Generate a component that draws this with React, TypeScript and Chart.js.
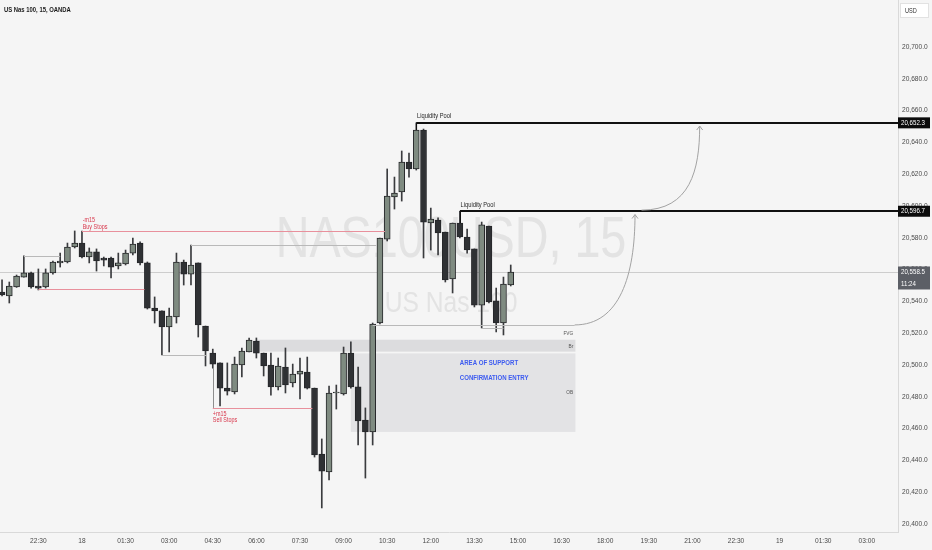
import { useEffect, useRef } from 'react';
import { Chart, registerables } from 'chart.js';

Chart.register(...registerables);

// 15-minute bars; bar index 0 = 18th 00:00
const FIRST_BAR = -11;

const OPEN = [
  20545.9, 20543.4, 20549.1, 20555.3, 20557.9, 20549.7, 20549.1, 20557.9, 20564.2, 20564.8, 20574.2,
  20576.7, 20567.9, 20571.1, 20567.3, 20567.3, 20562.3, 20563.5, 20570.4, 20576.7, 20564.2,
  20535.8, 20534.0, 20523.9, 20530.2, 20564.8, 20557.2, 20564.2, 20524.5, 20507.5, 20501.3,
  20485.5, 20483.0, 20500.0, 20508.2, 20515.1, 20507.5, 20500.0, 20486.2, 20498.7, 20488.7,
  20494.3, 20495.6, 20485.5, 20444.0, 20432.7, 20482.4, 20481.8, 20507.5, 20486.2, 20465.4,
  20457.9, 20526.4, 20579.2, 20605.7, 20608.8, 20627.7, 20623.3, 20647.8, 20589.3, 20591.2,
  20583.6, 20554.1, 20589.3, 20580.5, 20573.0, 20537.7, 20587.4, 20540.3, 20526.4, 20550.3,
];
const HIGH = [
  20553.5, 20552.2, 20556.6, 20568.6, 20558.5, 20560.4, 20560.4, 20565.4, 20570.4, 20576.7, 20584.3,
  20584.3, 20573.6, 20573.0, 20567.9, 20567.9, 20570.4, 20572.3, 20579.9, 20577.4, 20564.8,
  20542.8, 20534.0, 20535.8, 20570.4, 20566.0, 20575.5, 20564.2, 20524.5, 20510.0, 20501.3,
  20501.3, 20505.0, 20510.7, 20517.0, 20517.0, 20507.5, 20507.5, 20504.4, 20510.7, 20500.6,
  20504.4, 20505.0, 20485.5, 20453.5, 20486.8, 20487.4, 20511.3, 20514.5, 20498.7, 20473.0,
  20526.4, 20579.9, 20623.3, 20618.2, 20634.6, 20633.3, 20652.3, 20648.4, 20598.7, 20592.5,
  20583.6, 20589.3, 20596.7, 20585.5, 20573.0, 20589.9, 20587.4, 20548.4, 20555.3, 20562.9,
];
const LOW = [
  20543.4, 20539.0, 20548.8, 20555.3, 20548.4, 20547.2, 20548.4, 20557.2, 20561.6, 20564.2, 20573.6,
  20567.3, 20564.2, 20559.1, 20562.3, 20554.7, 20560.4, 20562.9, 20569.2, 20562.9, 20535.2,
  20526.4, 20506.3, 20508.2, 20526.4, 20550.3, 20550.3, 20517.6, 20499.4, 20498.0, 20474.2,
  20481.1, 20481.8, 20492.5, 20508.2, 20504.4, 20493.1, 20481.1, 20484.3, 20482.4, 20486.2,
  20478.6, 20484.9, 20442.1, 20410.1, 20427.7, 20472.3, 20481.1, 20485.5, 20449.7, 20428.9,
  20449.7, 20525.8, 20578.0, 20598.1, 20603.1, 20618.2, 20622.6, 20567.3, 20572.3, 20569.2,
  20552.2, 20545.3, 20579.9, 20570.4, 20536.5, 20523.3, 20539.0, 20520.8, 20518.9, 20549.7,
];
const CLOSE = [
  20544.0, 20549.7, 20556.0, 20557.9, 20549.1, 20548.4, 20557.9, 20564.8, 20565.4, 20574.2, 20576.7,
  20567.9, 20571.1, 20565.4, 20566.0, 20561.6, 20564.2, 20570.4, 20576.1, 20564.2, 20535.8,
  20534.0, 20523.9, 20530.8, 20564.8, 20557.2, 20562.9, 20525.2, 20508.8, 20500.6, 20485.5,
  20483.6, 20500.6, 20508.8, 20515.7, 20507.5, 20499.4, 20486.2, 20499.4, 20487.4, 20494.3,
  20496.2, 20485.5, 20443.4, 20433.3, 20482.4, 20483.0, 20507.5, 20486.2, 20464.8, 20457.9,
  20525.8, 20579.9, 20606.3, 20608.2, 20627.7, 20623.3, 20647.8, 20589.9, 20591.8, 20583.0,
  20553.5, 20589.3, 20580.5, 20572.3, 20537.7, 20588.1, 20539.6, 20526.4, 20550.9, 20558.5,
];

const X_TICK_BARS = [-6, 0, 6, 12, 18, 24, 30, 36, 42, 48, 54, 60, 66, 72, 78, 84, 90, 96, 102, 108];
const X_TICK_LABELS = ['22:30', '18', '01:30', '03:00', '04:30', '06:00', '07:30', '09:00', '10:30', '12:00',
  '13:30', '15:00', '16:30', '18:00', '19:30', '21:00', '22:30', '19', '01:30', '03:00'];
const Y_TICKS = [20400, 20420, 20440, 20460, 20480, 20500, 20520, 20540, 20560, 20580, 20600, 20620, 20640, 20660, 20680, 20700];

const X_MIN = -11.28;
const X_MAX = 112.29;
const Y_MIN = 20394.97;
const Y_MAX = 20729.56;

const LAST_PRICE = 20558.5;
const BAR_TIMER = '11:24';
const POOL_HIGH = 20652.3; // liquidity pool 1
const POOL_LOW = 20596.7; // liquidity pool 2

const SANS = "'Liberation Sans', Arial, sans-serif";
const SX = 0.82; // horizontal squeeze for the narrow look of the original
const BG = '#f5f5f5';
const BULL = '#7f8b81';
const BEAR = '#2f3134';
const EDGE = '#26272a';
const WICK = '#3a3b3e';
const PINK = '#e8909c';
const RED = '#d8374c';
const GREY_LINE = '#b9b9b9';

const fmtPrice = (v: number) =>
  v.toLocaleString('en-US', { minimumFractionDigits: 1, maximumFractionDigits: 1 });

function text(ctx: CanvasRenderingContext2D, s: string, x: number, y: number, font: string, color: string,
  align: CanvasTextAlign = 'left', baseline: CanvasTextBaseline = 'middle') {
  ctx.save();
  ctx.font = font;
  ctx.fillStyle = color;
  ctx.textAlign = align;
  ctx.textBaseline = baseline;
  ctx.translate(x, y);
  ctx.scale(SX, 1);
  ctx.fillText(s, 0, 0);
  ctx.restore();
}

const overlayPlugin = {
  id: 'overlay',
  beforeDraw(chart: any) {
    const { ctx, width, height } = chart;
    ctx.save();
    ctx.fillStyle = BG;
    ctx.fillRect(0, 0, width, height);
    ctx.restore();
  },
  beforeDatasetsDraw(chart: any) {
    const { ctx, chartArea: a, scales } = chart;
    const X = (v: number) => scales.x.getPixelForValue(v);
    const Y = (v: number) => scales.y.getPixelForValue(v);
    ctx.save();
    ctx.beginPath();
    ctx.rect(a.left, a.top, a.right - a.left, a.bottom - a.top);
    ctx.clip();
    // watermark
    const cx = (a.left + a.right) / 2 + 2;
    text(ctx, 'NAS100USD, 15', cx, 257, `57px ${SANS}`, '#e3e3e3', 'center', 'alphabetic');
    text(ctx, 'US Nas 100', cx, 312, `30px ${SANS}`, '#e3e3e3', 'center', 'alphabetic');
    // last price line
    ctx.strokeStyle = '#cdcdcd';
    ctx.lineWidth = 1;
    ctx.beginPath();
    ctx.moveTo(a.left, Math.round(Y(LAST_PRICE)) + 0.5);
    ctx.lineTo(a.right, Math.round(Y(LAST_PRICE)) + 0.5);
    ctx.stroke();
    // zones
    const rect = (x1: number, x2: number, p1: number, p2: number, fill: string) => {
      ctx.fillStyle = fill;
      ctx.fillRect(X(x1), Y(p1), X(x2) - X(x1), Y(p2) - Y(p1));
    };
    rect(23.9, 67.9, 20515.9, 20508.4, '#dcdcde'); // Br band
    rect(37.0, 67.9, 20507.3, 20457.9, '#e3e3e5'); // OB
    ctx.restore();
  },
  afterDatasetsDraw(chart: any) {
    const { ctx, chartArea: a, scales } = chart;
    const X = (v: number) => scales.x.getPixelForValue(v);
    const Y = (v: number) => scales.y.getPixelForValue(v);
    ctx.save();
    ctx.beginPath();
    ctx.rect(a.left, a.top, a.right - a.left, a.bottom - a.top);
    ctx.clip();
    const hline = (x1: number, x2: number, p: number, color: string, w = 1) => {
      ctx.strokeStyle = color;
      ctx.lineWidth = w;
      const yy = w % 2 ? Math.round(Y(p)) + 0.5 : Math.round(Y(p));
      ctx.beginPath();
      ctx.moveTo(X(x1), yy);
      ctx.lineTo(X(x2), yy);
      ctx.stroke();
    };
    const vline = (x: number, p1: number, p2: number, color: string) => {
      ctx.strokeStyle = color;
      ctx.lineWidth = 1;
      const xx = Math.round(X(x)) + 0.5;
      ctx.beginPath();
      ctx.moveTo(xx, Y(p1));
      ctx.lineTo(xx, Y(p2));
      ctx.stroke();
    };
    // liquidity levels on the left
    hline(-8, -3, 20568.6, GREY_LINE);
    hline(-6, 8.6, 20547.6, PINK);
    hline(0, 41.7, 20584.3, PINK);
    hline(15, 40.5, 20575.5, GREY_LINE);
    hline(11, 17.2, 20506.3, GREY_LINE);
    vline(18, 20498.0, 20473.0, '#8e8e8e');
    hline(18, 31.7, 20473.0, PINK);
    // FVG
    hline(40, 67.8, 20525.2, GREY_LINE);
    hline(55, 58, 20523.3, GREY_LINE);
    // liquidity pools
    vline(46, POOL_HIGH, 20647.8, '#111');
    hline(46, X_MAX, POOL_HIGH, '#111', 2);
    vline(52, POOL_LOW, 20589.3, '#111');
    hline(52, X_MAX, POOL_LOW, '#111', 2);

    const small = `7px ${SANS}`;
    text(ctx, 'Liquidity Pool', X(46.1), Y(POOL_HIGH) - 4.5, small, '#1c1c1c', 'left', 'alphabetic');
    text(ctx, 'Liquidity Pool', X(52.1), Y(POOL_LOW) - 4.5, small, '#1c1c1c', 'left', 'alphabetic');
    text(ctx, '-m15', X(0.1), 222, `6.6px ${SANS}`, RED, 'left', 'alphabetic');
    text(ctx, 'Buy Stops', X(0.1), 228.5, `6.6px ${SANS}`, RED, 'left', 'alphabetic');
    text(ctx, '+m15', X(18), Y(20473.0) + 8, `6.6px ${SANS}`, RED, 'left', 'alphabetic');
    text(ctx, 'Sell Stops', X(18), Y(20473.0) + 14.5, `6.6px ${SANS}`, RED, 'left', 'alphabetic');
    text(ctx, 'FVG', X(67.6), Y(20525.2) + 8, `5.8px ${SANS}`, '#555', 'right', 'middle');
    text(ctx, 'Br', X(67.6), Y(20512.0), `5.8px ${SANS}`, '#555', 'right', 'middle');
    text(ctx, 'OB', X(67.6), Y(20482.8), `5.8px ${SANS}`, '#555', 'right', 'middle');
    const blue = `bold 7.4px ${SANS}`;
    text(ctx, 'AREA OF SUPPORT', X(52.0), Y(20501.0), blue, '#3d5bf0', 'left', 'middle');
    text(ctx, 'CONFIRMATION ENTRY', X(52.0), Y(20492.0), blue, '#3d5bf0', 'left', 'middle');

    // projection arrows
    const curve = (pts: number[][]) => {
      const p = pts.map(([i, v]) => [X(i), Y(v)]);
      ctx.strokeStyle = '#a3a3a3';
      ctx.lineWidth = 1;
      ctx.beginPath();
      ctx.moveTo(p[0][0], p[0][1]);
      ctx.bezierCurveTo(p[1][0], p[1][1], p[2][0], p[2][1], p[3][0], p[3][1]);
      ctx.stroke();
      const [ex, ey] = p[3];
      ctx.beginPath();
      ctx.moveTo(ex - 3, ey + 4);
      ctx.lineTo(ex, ey);
      ctx.lineTo(ex + 3, ey + 4);
      ctx.stroke();
    };
    curve([[67.8, 20525.2], [74.0, 20525.2], [76.1, 20556.6], [76.1, 20594.6]]);
    curve([[77.0, 20597.4], [83.7, 20597.4], [85.0, 20622.6], [85.0, 20650.3]]);
    ctx.restore();

    // axis price tags
    ctx.save();
    const tag = (p: number, fill: string, lines: string[]) => {
      const yy = Y(p);
      const h = 11 + (lines.length - 1) * 12;
      ctx.fillStyle = fill;
      ctx.fillRect(a.right, yy - 5.5, 32, h);
      lines.forEach((s, k) => text(ctx, s, a.right + 3, yy + k * 11.5, `7.5px ${SANS}`, '#fff', 'left', 'middle'));
    };
    tag(POOL_HIGH, '#0c0c0c', [fmtPrice(POOL_HIGH)]);
    tag(POOL_LOW, '#0c0c0c', [fmtPrice(POOL_LOW)]);
    tag(LAST_PRICE, '#5c5f66', [fmtPrice(LAST_PRICE), BAR_TIMER]);
    // currency box
    ctx.fillStyle = '#ffffff';
    ctx.fillRect(a.right + 2, 3, 29, 15);
    ctx.strokeStyle = '#e2e2e2';
    ctx.strokeRect(a.right + 2.5, 3.5, 28, 14);
    text(ctx, 'USD', a.right + 7, 11, `6.8px ${SANS}`, '#333', 'left', 'middle');
    // title
    text(ctx, 'US Nas 100, 15, OANDA', 4, 10.5, `bold 7.2px ${SANS}`, '#1a1a1a', 'left', 'middle');
    ctx.restore();
  },
};

export default function App() {
  const ref = useRef<HTMLCanvasElement | null>(null);
  useEffect(() => {
    document.body.style.margin = '0';
    const canvas = ref.current;
    if (!canvas) return;
    const bars = OPEN.map((_, k) => FIRST_BAR + k);
    const chart = new Chart(canvas, {
      type: 'bar',
      data: {
        datasets: [
          {
            label: 'wick',
            data: bars.map((x, k) => ({ x, y: [LOW[k], HIGH[k]] })) as any,
            backgroundColor: WICK,
            barThickness: 1,
            grouped: false,
            order: 2,
          },
          {
            label: 'body',
            data: bars.map((x, k) => ({ x, y: [Math.min(OPEN[k], CLOSE[k]), Math.max(OPEN[k], CLOSE[k])] })) as any,
            backgroundColor: bars.map((_, k) => (CLOSE[k] >= OPEN[k] ? BULL : BEAR)),
            borderColor: EDGE,
            borderWidth: 1,
            borderSkipped: false,
            barThickness: 6,
            grouped: false,
            order: 1,
          },
        ],
      },
      options: {
        animation: false,
        responsive: false,
        maintainAspectRatio: false,
        layout: { padding: 0 },
        plugins: { legend: { display: false }, tooltip: { enabled: false } },
        scales: {
          x: {
            type: 'linear',
            min: X_MIN,
            max: X_MAX,
            offset: false,
            grid: { display: false, drawTicks: false },
            border: { display: true, color: '#d9d9d9' },
            afterBuildTicks: (s: any) => { s.ticks = X_TICK_BARS.map((v) => ({ value: v })); },
            afterFit: (s: any) => { s.height = 18; s.paddingLeft = 0; s.paddingRight = 0; },
            ticks: {
              autoSkip: false,
              maxRotation: 0,
              padding: 5,
              color: '#4a4a4a',
              font: { family: SANS, size: 6.6 },
              callback: (_v: any, i: number) => X_TICK_LABELS[i],
            },
          },
          y: {
            type: 'linear',
            position: 'right',
            min: Y_MIN,
            max: Y_MAX,
            grid: { display: false, drawTicks: false },
            border: { display: true, color: '#d9d9d9' },
            afterBuildTicks: (s: any) => { s.ticks = Y_TICKS.map((v) => ({ value: v })); },
            afterFit: (s: any) => { s.width = 34; s.paddingTop = 0; s.paddingBottom = 0; },
            ticks: {
              padding: 4,
              color: '#4a4a4a',
              font: { family: SANS, size: 6.6 },
              callback: (v: any) => fmtPrice(Number(v)),
            },
          },
        },
      } as any,
      plugins: [overlayPlugin],
    });
    return () => chart.destroy();
  }, []);
  return (
    <div style={{ width: 932, height: 550 }}>
      <canvas ref={ref} width={932} height={550} style={{ display: 'block' }} />
    </div>
  );
}
